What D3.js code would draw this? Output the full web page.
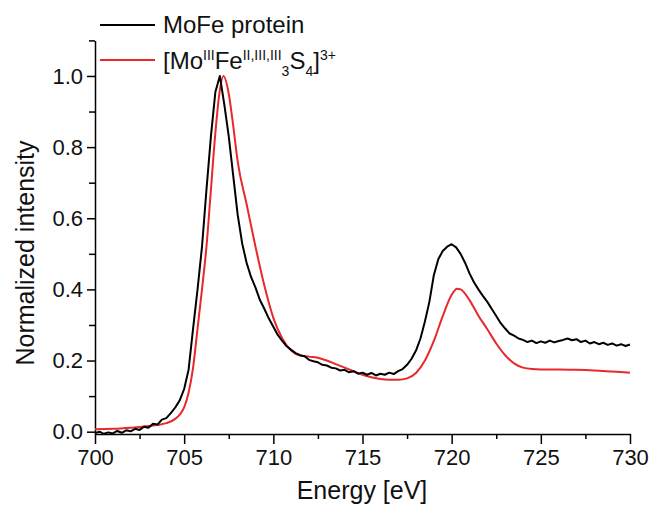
<!DOCTYPE html>
<html>
<head>
<meta charset="utf-8">
<script src="https://cdn.jsdelivr.net/npm/d3@7"></script>
<style>
  body { margin: 0; background: #fff; }
  text { font-family: "Liberation Sans", Arial, sans-serif; }
</style>
</head>
<body>
<svg id="chart" width="650" height="511"></svg>
<script>
// MoFe protein, every 0.25 eV
const energyMoFe = d3.range(0, 121).map(i => 700 + i * 0.25)
const intensityMoFe = [
  -0.004, 0.000, -0.006, -0.002, -0.005, 0.002, -0.003, 0.004, 0.001, 0.008,
  0.005, 0.014, 0.011, 0.022, 0.020, 0.034, 0.038, 0.052, 0.068, 0.088,
  0.120, 0.175, 0.290, 0.400, 0.520, 0.680, 0.830, 0.955, 1.000, 0.920,
  0.830, 0.720, 0.610, 0.530, 0.475, 0.435, 0.405, 0.370, 0.345, 0.318,
  0.295, 0.272, 0.255, 0.240, 0.230, 0.221, 0.215, 0.212, 0.202, 0.198,
  0.195, 0.188, 0.186, 0.180, 0.178, 0.172, 0.174, 0.167, 0.170, 0.163,
  0.166, 0.160, 0.165, 0.158, 0.163, 0.160, 0.166, 0.162, 0.170, 0.176,
  0.188, 0.205, 0.228, 0.262, 0.310, 0.365, 0.440, 0.485, 0.508, 0.520,
  0.527, 0.518, 0.500, 0.475, 0.445, 0.420, 0.400, 0.382, 0.365, 0.345,
  0.325, 0.305, 0.290, 0.276, 0.270, 0.262, 0.258, 0.252, 0.256, 0.249,
  0.254, 0.250, 0.256, 0.251, 0.255, 0.258, 0.262, 0.257, 0.260, 0.252,
  0.256, 0.248, 0.252, 0.246, 0.250, 0.244, 0.248, 0.242, 0.246, 0.241,
  0.245
]

// [MoFe3S4]3+ model complex
const energyComplex = [
  700, 701, 702, 702.5, 703, 703.5, 704, 704.5, 704.75, 705,
  705.25, 705.5, 705.75, 706, 706.25, 706.5, 706.75, 707, 707.2, 707.5,
  707.75, 708, 708.5, 709, 709.5, 710, 710.5, 711, 711.5, 712,
  712.5, 713, 713.5, 714, 714.5, 715, 715.5, 716, 716.5, 717,
  717.5, 718, 718.5, 719, 719.5, 720, 720.3, 720.5, 721, 721.5,
  722, 722.5, 723, 723.5, 724, 724.5, 725, 726, 727, 728,
  729, 730
]
const intensityComplex = [
  0.007, 0.008, 0.011, 0.013, 0.016, 0.019, 0.024, 0.036, 0.048, 0.068,
  0.110, 0.180, 0.290, 0.400, 0.520, 0.680, 0.840, 0.960, 1.000, 0.950,
  0.860, 0.760, 0.640, 0.520, 0.410, 0.320, 0.262, 0.228, 0.214, 0.211,
  0.208, 0.200, 0.190, 0.180, 0.170, 0.160, 0.153, 0.148, 0.146, 0.146,
  0.150, 0.165, 0.200, 0.255, 0.325, 0.385, 0.402, 0.400, 0.370, 0.326,
  0.288, 0.248, 0.215, 0.192, 0.180, 0.176, 0.175, 0.175, 0.174, 0.172,
  0.169, 0.166
]

const xMajor = [700, 705, 710, 715, 720, 725, 730]
const xMinor = [702.5, 707.5, 712.5, 717.5, 722.5, 727.5]
const yMajor = [0, 0.2, 0.4, 0.6, 0.8, 1.0]
const yMinor = [0.1, 0.3, 0.5, 0.7, 0.9, 1.1]

const RED = '#e8282b'

const svg = d3.select('#chart')

const xScale = d3.scaleLinear().domain([700, 730]).range([95, 630])
const yScale = d3.scaleLinear().domain([-0.0065, 1.1]).range([434, 40.4])

const tickFont = g =>
    g.selectAll('text')
        .style('font-size', '22px')
        .style('font-family', '"Liberation Sans", Arial, sans-serif')
        .attr('fill', '#111')

// x axis: major + minor ticks
svg.append('g')
    .attr('transform', 'translate(0,434)')
    .call(d3.axisBottom(xScale).tickValues(xMinor).tickSize(5).tickSizeOuter(0).tickFormat(''))
    .call(g => g.select('.domain').remove())
    .call(g => g.selectAll('line').attr('stroke-width', 1.5))

svg.append('g')
    .attr('transform', 'translate(0,434)')
    .call(d3.axisBottom(xScale).tickValues(xMajor).tickSize(10).tickSizeOuter(0).tickPadding(5).tickFormat(d3.format('d')))
    .call(g => g.select('.domain').attr('stroke-width', 1.5))
    .call(g => g.selectAll('line').attr('stroke-width', 1.5))
    .call(tickFont)

// y axis
svg.append('g')
    .attr('transform', 'translate(95,0)')
    .call(d3.axisLeft(yScale).tickValues(yMinor).tickSize(6).tickSizeOuter(0).tickFormat(''))
    .call(g => g.select('.domain').remove())
    .call(g => g.selectAll('line').attr('stroke-width', 1.5))

svg.append('g')
    .attr('transform', 'translate(95,0)')
    .call(d3.axisLeft(yScale).tickValues(yMajor).tickSize(8).tickSizeOuter(0).tickPadding(4).tickFormat(d3.format('.1f')))
    .call(g => g.select('.domain').attr('stroke-width', 1.5))
    .call(g => g.selectAll('line').attr('stroke-width', 1.5))
    .call(tickFont)

// axis titles
svg.append('text')
    .attr('x', 362)
    .attr('y', 499)
    .attr('text-anchor', 'middle')
    .style('font-size', '25px')
    .attr('fill', '#111')
    .text('Energy [eV]')

svg.append('text')
    .attr('transform', 'translate(34,253) rotate(-90)')
    .attr('text-anchor', 'middle')
    .style('font-size', '25px')
    .attr('fill', '#111')
    .text('Normalized intensity')

// curves
const line = d3.line()
    .x(d => xScale(d[0]))
    .y(d => yScale(d[1]))

const complexPts = energyComplex.map((e, i) => [e, intensityComplex[i]])
const mofePts = energyMoFe.map((e, i) => [e, intensityMoFe[i]])

svg.append('path')
    .datum(complexPts)
    .attr('fill', 'none')
    .attr('stroke', RED)
    .attr('stroke-width', 2)
    .attr('d', line.curve(d3.curveMonotoneX))

svg.append('path')
    .datum(mofePts)
    .attr('fill', 'none')
    .attr('stroke', '#000')
    .attr('stroke-width', 2)
    .attr('stroke-linejoin', 'round')
    .attr('d', line.curve(d3.curveLinear))

// legend
const legend = svg.append('g')
legend.append('line')
    .attr('x1', 100).attr('x2', 155).attr('y1', 25).attr('y2', 25)
    .attr('stroke', '#000').attr('stroke-width', 2)
legend.append('text')
    .attr('x', 163).attr('y', 33)
    .style('font-size', '24px')
    .attr('fill', '#111')
    .text('MoFe protein')

legend.append('line')
    .attr('x1', 100).attr('x2', 155).attr('y1', 60).attr('y2', 60)
    .attr('stroke', RED).attr('stroke-width', 2)

const lbl = legend.append('text')
    .attr('x', 163).attr('y', 69)
    .style('font-size', '24px')
    .attr('fill', '#111')
const parts = [
    { t: '[Mo', dy: 0, s: 24 },
    { t: 'III', dy: -9, s: 14 },
    { t: 'Fe', dy: 9, s: 24 },
    { t: 'II,III,III', dy: -9, s: 14 },
    { t: '3', dy: 16, s: 14 },
    { t: 'S', dy: -7, s: 24 },
    { t: '4', dy: 7, s: 14 },
    { t: ']', dy: -7, s: 24 },
    { t: '3+', dy: -9, s: 14 }
]
parts.forEach(p => {
    lbl.append('tspan')
        .attr('dy', p.dy)
        .style('font-size', p.s + 'px')
        .text(p.t)
})
</script>
</body>
</html>
